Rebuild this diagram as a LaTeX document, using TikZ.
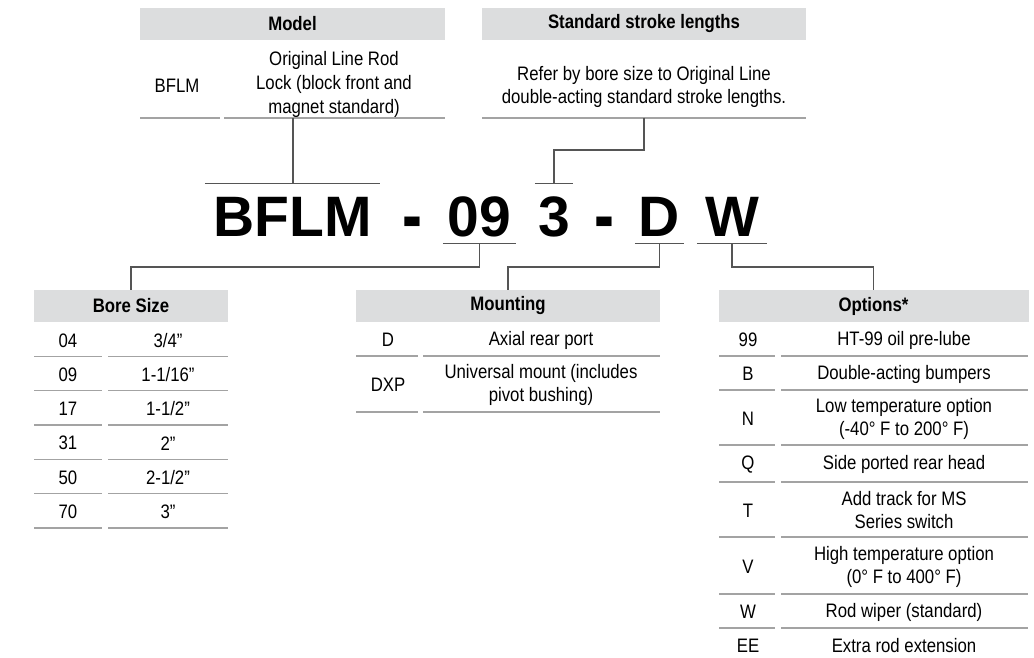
\documentclass[tikz,border=0pt]{standalone}
\usepackage{fontspec}
\setmainfont{Liberation Sans}[FakeStretch=0.86]
\newfontfamily\codefont{Liberation Sans}
\usepackage{tikz}
\usetikzlibrary{positioning,calc}
\definecolor{hdrc}{HTML}{DCDDDE}
\definecolor{rulec}{HTML}{A3A3A3}
\definecolor{linkc}{HTML}{555555}
\tikzset{
  hd/.style={fill=hdrc,minimum height=32pt,inner sep=0pt,font=\fontsize{19.5}{23}\selectfont\bfseries},
  cell/.style={align=center,inner sep=0pt,font=\fontsize{19.5}{23}\selectfont},
  rl/.style={rulec,line width=1.4pt},
  ln/.style={linkc,line width=1.1pt},
  code/.style={font=\codefont\fontsize{57}{57}\selectfont\bfseries,anchor=base,inner xsep=0pt,inner ysep=5pt,text height=47pt,text depth=2pt}
}

\begin{document}
\begin{tikzpicture}[x=1pt,y=-1pt]
\useasboundingbox (0,0) rectangle (1034,658);
\node[hd,minimum width=305pt] (mdl) at (292.5,24) {Model};
\node[hd,minimum width=324pt] (stk) at (644,24) {Standard stroke lengths};
\node[cell] (mdlcode) at (177,86) {BFLM};
\node[cell,font=\fontsize{19.5}{24}\selectfont] (mdltxt) at (334,84) {Original Line Rod\\Lock (block front and\\magnet standard)};
\node[cell] (stktxt) at (644,87) {Refer by bore size to Original Line\\double-acting standard stroke lengths.};
\draw[rl] (140,118) -- (220,118) (224,118) -- (445,118);
\draw[rl] (482,118) -- (806,118);
\coordinate (mdlb) at (293,118);
\coordinate (stkb) at (644,118);

\node[code,minimum width=175pt] (bflm) at (292.5,236) {BFLM};
\node[code] (dasha) at (412,236) {\raisebox{-7pt}{\scalebox{1.05}[1.4]{-}}};
\node[code,minimum width=73pt] (nine) at (479.5,236) {09};
\node[code,minimum width=38pt] (three) at (554,236) {3};
\node[code] (dashb) at (604,236) {\raisebox{-7pt}{\scalebox{1.05}[1.4]{-}}};
\node[code,minimum width=49pt] (dd) at (659.5,236) {D};
\node[code,minimum width=70pt] (ww) at (732,236) {W};

\node[hd,minimum width=194pt] (bore) at (131,306) {Bore Size};
\node[hd,minimum width=304pt] (mnt) at (508,306) {Mounting};
\node[hd,minimum width=310pt] (opt) at (873.5,306) {Options*};

\draw[ln] (mdlb) -- (mdlb |- bflm.north);
\draw[ln] (bflm.north west) -- (bflm.north east);
\draw[ln] (stkb) -- (stkb |- 0,150) -| (three.north);
\draw[ln] (three.north west) -- (three.north east);
\draw[ln] (nine.south west) -- (nine.south east);
\draw[ln] (nine.south) -- (nine.south |- 0,267) -| (bore.north);
\draw[ln] (dd.south west) -- (dd.south east);
\draw[ln] (dd.south) -- (dd.south |- 0,267) -| (mnt.north);
\draw[ln] (ww.south west) -- (ww.south east);
\draw[ln] (ww.south) -- (ww.south |- 0,267) -| (opt.north);

\foreach \c/\s [count=\i] in {04/{3/4”},09/{1-1/16”},17/{1-1/2”},31/{2”},50/{2-1/2"},70/{3"}}{
  \node[cell] (bc\i) at (68,{322+34.3*\i-16}) {\c};
  \node[cell] (bs\i) at (168,{322+34.3*\i-16}) {\s};
  \draw[rl] (34,{322+34.3*\i}) -- (102,{322+34.3*\i}) (108,{322+34.3*\i}) -- (228,{322+34.3*\i});
}

\foreach \c/\t/\ya/\yb [count=\i] in {D/{Axial rear port}/322/356,DXP/{Universal mount (includes\\pivot bushing)}/356/412}{
  \node[cell] (mc\i) at (388,{(\ya+\yb)/2+1}) {\c};
  \node[cell] (mt\i) at (541,{(\ya+\yb)/2+1}) {\t};
  \draw[rl] (356,\yb) -- (418,\yb) (423,\yb) -- (660,\yb);
}

\foreach \c/\t/\ya/\yb [count=\i] in {99/{HT-99 oil pre-lube}/322/356,B/{Double-acting bumpers}/356/390,N/{Low temperature option\\(-40° F to 200° F)}/390/445,Q/{Side ported rear head}/445/482,T/{Add track for MS\\Series switch}/482/537,V/{High temperature option\\(0° F to 400° F)}/537/594,W/{Rod wiper (standard)}/594/628,EE/{Extra rod extension}/628/662}{
  \node[cell] (oc\i) at (748,{(\ya+\yb)/2+1}) {\c};
  \node[cell] (ot\i) at (904,{(\ya+\yb)/2+1}) {\t};
  \draw[rl] (719,\yb) -- (775,\yb) (781,\yb) -- (1028,\yb);
}
\end{tikzpicture}
\end{document}
